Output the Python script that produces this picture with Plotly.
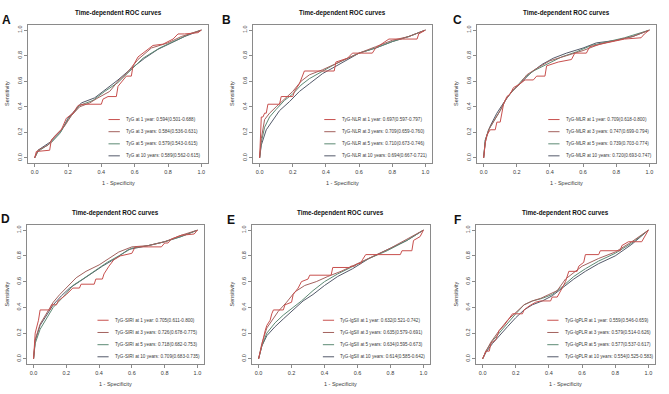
import plotly.graph_objects as go

# ---------------- data ----------------
panel_letters = ["A", "B", "C", "D", "E", "F"]
panel_title = "Time-dependent ROC curves"
x_title = "1 - Specificity"
y_title = "Sensitivity"
tick_vals = [0.0, 0.2, 0.4, 0.6, 0.8, 1.0]
tick_text = ["0.0", "0.2", "0.4", "0.6", "0.8", "1.0"]
series_colors = ["#c8504e", "#a3625e", "#5d8a74", "#545a6a"]

legend_A = ["TyG at 1 year: 0.594(0.501-0.688)", "TyG at 3 years: 0.584(0.536-0.631)",
            "TyG at 5 years: 0.579(0.543-0.615)", "TyG at 10 years: 0.589(0.562-0.615)"]
legend_B = ["TyG-NLR at 1 year: 0.697(0.597-0.797)", "TyG-NLR at 3 years: 0.709(0.659-0.760)",
            "TyG-NLR at 5 years: 0.710(0.673-0.746)", "TyG-NLR at 10 years: 0.694(0.667-0.721)"]
legend_C = ["TyG-MLR at 1 year: 0.709(0.618-0.800)", "TyG-MLR at 3 years: 0.747(0.699-0.794)",
            "TyG-MLR at 5 years: 0.739(0.703-0.774)", "TyG-MLR at 10 years: 0.720(0.693-0.747)"]
legend_D = ["TyG-SIRI at 1 year: 0.705(0.611-0.800)", "TyG-SIRI at 3 years: 0.726(0.678-0.775)",
            "TyG-SIRI at 5 years: 0.718(0.682-0.753)", "TyG-SIRI at 10 years: 0.709(0.683-0.735)"]
legend_E = ["TyG-lgSII at 1 year: 0.632(0.521-0.742)", "TyG-lgSII at 3 years: 0.635(0.579-0.691)",
            "TyG-lgSII at 5 years: 0.634(0.595-0.673)", "TyG-lgSII at 10 years: 0.614(0.585-0.642)"]
legend_F = ["TyG-lgPLR at 1 year: 0.559(0.546-0.659)", "TyG-lgPLR at 3 years: 0.579(0.514-0.626)",
            "TyG-lgPLR at 5 years: 0.577(0.537-0.617)", "TyG-lgPLR at 10 years: 0.554(0.525-0.583)"]

# panel A (FPR, TPR)
A_1y_fpr = [0, 0.01, 0.09, 0.10, 0.13, 0.16, 0.19, 0.23, 0.26, 0.29, 0.40, 0.41, 0.44, 0.49, 0.50, 0.55, 0.58, 0.59, 0.62, 0.65, 0.71, 0.77, 0.83, 0.86, 0.90, 0.98, 1.0]
A_1y_tpr = [0, 0.05, 0.06, 0.14, 0.18, 0.22, 0.31, 0.35, 0.41, 0.42, 0.42, 0.46, 0.48, 0.48, 0.56, 0.64, 0.64, 0.72, 0.79, 0.82, 0.88, 0.89, 0.93, 0.97, 0.97, 0.98, 1.0]
A_3y_fpr = [0, 0.02, 0.08, 0.12, 0.18, 0.22, 0.27, 0.33, 0.38, 0.45, 0.50, 0.55, 0.62, 0.70, 0.80, 0.88, 1.0]
A_3y_tpr = [0, 0.06, 0.10, 0.17, 0.25, 0.33, 0.40, 0.43, 0.47, 0.52, 0.60, 0.66, 0.77, 0.86, 0.90, 0.95, 1.0]
A_5y_fpr = [0, 0.02, 0.10, 0.15, 0.20, 0.27, 0.35, 0.42, 0.50, 0.57, 0.65, 0.75, 0.85, 0.93, 1.0]
A_5y_tpr = [0, 0.05, 0.12, 0.19, 0.30, 0.41, 0.45, 0.52, 0.59, 0.68, 0.78, 0.86, 0.92, 0.97, 1.0]
A_10y_fpr = [0, 0.02, 0.10, 0.16, 0.20, 0.28, 0.36, 0.44, 0.50, 0.58, 0.66, 0.74, 0.82, 0.90, 1.0]
A_10y_tpr = [0, 0.06, 0.13, 0.21, 0.31, 0.43, 0.47, 0.55, 0.61, 0.70, 0.78, 0.85, 0.90, 0.95, 1.0]

# panel B
B_1y_fpr = [0, 0.01, 0.02, 0.03, 0.04, 0.05, 0.12, 0.13, 0.20, 0.21, 0.24, 0.26, 0.27, 0.40, 0.45, 0.46, 0.53, 0.56, 0.59, 0.68, 0.70, 0.78, 0.95, 0.96, 1.0]
B_1y_tpr = [0, 0.32, 0.32, 0.35, 0.35, 0.42, 0.42, 0.48, 0.48, 0.52, 0.58, 0.64, 0.68, 0.68, 0.68, 0.75, 0.78, 0.82, 0.82, 0.82, 0.86, 0.93, 0.93, 0.97, 1.0]
B_3y_fpr = [0, 0.01, 0.03, 0.06, 0.10, 0.15, 0.20, 0.25, 0.30, 0.38, 0.45, 0.52, 0.60, 0.70, 0.80, 0.90, 1.0]
B_3y_tpr = [0, 0.15, 0.30, 0.35, 0.40, 0.46, 0.52, 0.60, 0.65, 0.69, 0.73, 0.77, 0.82, 0.87, 0.92, 0.95, 1.0]
B_5y_fpr = [0, 0.01, 0.03, 0.06, 0.10, 0.15, 0.20, 0.25, 0.30, 0.38, 0.45, 0.53, 0.60, 0.70, 0.80, 0.90, 1.0]
B_5y_tpr = [0, 0.12, 0.24, 0.32, 0.38, 0.45, 0.50, 0.57, 0.62, 0.68, 0.73, 0.78, 0.82, 0.86, 0.91, 0.95, 1.0]
B_10y_fpr = [0, 0.01, 0.04, 0.08, 0.12, 0.18, 0.24, 0.30, 0.38, 0.45, 0.53, 0.60, 0.70, 0.80, 0.90, 1.0]
B_10y_tpr = [0, 0.10, 0.22, 0.30, 0.37, 0.44, 0.52, 0.58, 0.66, 0.71, 0.77, 0.82, 0.86, 0.91, 0.95, 1.0]

# panel C
C_1y_fpr = [0, 0.01, 0.02, 0.04, 0.07, 0.08, 0.10, 0.11, 0.12, 0.14, 0.16, 0.18, 0.22, 0.25, 0.30, 0.32, 0.37, 0.38, 0.45, 0.53, 0.55, 0.62, 0.64, 0.74, 0.85, 0.95, 0.97, 1.0]
C_1y_tpr = [0, 0.12, 0.18, 0.22, 0.22, 0.28, 0.28, 0.36, 0.42, 0.48, 0.50, 0.55, 0.58, 0.61, 0.61, 0.64, 0.64, 0.72, 0.75, 0.77, 0.82, 0.82, 0.87, 0.90, 0.93, 0.94, 0.97, 1.0]
C_3y_fpr = [0, 0.01, 0.03, 0.06, 0.10, 0.13, 0.17, 0.22, 0.26, 0.32, 0.40, 0.50, 0.60, 0.70, 0.80, 0.90, 1.0]
C_3y_tpr = [0, 0.12, 0.22, 0.28, 0.37, 0.45, 0.52, 0.58, 0.65, 0.70, 0.76, 0.80, 0.84, 0.89, 0.92, 0.95, 1.0]
C_5y_fpr = [0, 0.01, 0.03, 0.07, 0.10, 0.14, 0.18, 0.24, 0.30, 0.38, 0.47, 0.56, 0.65, 0.75, 0.85, 1.0]
C_5y_tpr = [0, 0.14, 0.22, 0.30, 0.37, 0.47, 0.53, 0.62, 0.68, 0.73, 0.79, 0.83, 0.88, 0.91, 0.94, 1.0]
C_10y_fpr = [0, 0.01, 0.04, 0.08, 0.12, 0.17, 0.22, 0.28, 0.35, 0.42, 0.50, 0.60, 0.68, 0.80, 0.90, 1.0]
C_10y_tpr = [0, 0.14, 0.25, 0.35, 0.43, 0.52, 0.58, 0.66, 0.73, 0.78, 0.82, 0.86, 0.90, 0.92, 0.95, 1.0]

# panel D
D_1y_fpr = [0, 0.01, 0.03, 0.04, 0.10, 0.11, 0.14, 0.15, 0.20, 0.24, 0.28, 0.29, 0.37, 0.38, 0.42, 0.43, 0.46, 0.49, 0.53, 0.60, 0.62, 0.78, 0.80, 0.82, 0.84, 0.90, 0.98, 1.0]
D_1y_tpr = [0, 0.20, 0.30, 0.38, 0.38, 0.42, 0.42, 0.45, 0.50, 0.55, 0.55, 0.58, 0.58, 0.62, 0.62, 0.66, 0.72, 0.77, 0.80, 0.82, 0.87, 0.87, 0.90, 0.90, 0.93, 0.96, 0.97, 1.0]
D_3y_fpr = [0, 0.01, 0.04, 0.08, 0.12, 0.16, 0.20, 0.26, 0.32, 0.40, 0.46, 0.52, 0.60, 0.70, 0.80, 0.90, 1.0]
D_3y_tpr = [0, 0.15, 0.27, 0.36, 0.44, 0.50, 0.55, 0.63, 0.68, 0.73, 0.78, 0.83, 0.87, 0.88, 0.91, 0.96, 1.0]
D_5y_fpr = [0, 0.01, 0.04, 0.08, 0.12, 0.18, 0.24, 0.30, 0.38, 0.45, 0.52, 0.60, 0.70, 0.80, 0.90, 1.0]
D_5y_tpr = [0, 0.12, 0.23, 0.32, 0.40, 0.48, 0.57, 0.62, 0.69, 0.75, 0.80, 0.86, 0.88, 0.91, 0.95, 1.0]
D_10y_fpr = [0, 0.01, 0.04, 0.08, 0.12, 0.17, 0.22, 0.28, 0.35, 0.42, 0.50, 0.58, 0.70, 0.80, 0.90, 1.0]
D_10y_tpr = [0, 0.14, 0.26, 0.34, 0.42, 0.49, 0.55, 0.60, 0.66, 0.72, 0.78, 0.85, 0.88, 0.91, 0.95, 1.0]

# panel E
E_1y_fpr = [0, 0.02, 0.04, 0.05, 0.07, 0.08, 0.09, 0.15, 0.16, 0.20, 0.21, 0.24, 0.26, 0.30, 0.31, 0.44, 0.45, 0.55, 0.56, 0.58, 0.60, 0.62, 0.63, 0.65, 0.86, 0.87, 0.93, 0.94, 0.98, 1.0]
E_1y_tpr = [0, 0.12, 0.22, 0.26, 0.30, 0.35, 0.38, 0.38, 0.42, 0.44, 0.50, 0.55, 0.60, 0.62, 0.65, 0.65, 0.71, 0.71, 0.72, 0.72, 0.74, 0.74, 0.77, 0.81, 0.81, 0.84, 0.84, 0.92, 0.95, 1.0]
E_3y_fpr = [0, 0.02, 0.05, 0.08, 0.12, 0.17, 0.22, 0.28, 0.35, 0.42, 0.50, 0.60, 0.70, 0.80, 0.90, 1.0]
E_3y_tpr = [0, 0.12, 0.24, 0.30, 0.37, 0.44, 0.52, 0.57, 0.60, 0.64, 0.68, 0.74, 0.80, 0.86, 0.93, 1.0]
E_5y_fpr = [0, 0.02, 0.05, 0.10, 0.15, 0.20, 0.26, 0.33, 0.40, 0.48, 0.57, 0.67, 0.78, 0.90, 1.0]
E_5y_tpr = [0, 0.10, 0.20, 0.28, 0.34, 0.39, 0.45, 0.53, 0.60, 0.66, 0.72, 0.78, 0.84, 0.92, 1.0]
E_10y_fpr = [0, 0.02, 0.05, 0.10, 0.15, 0.20, 0.27, 0.33, 0.40, 0.48, 0.57, 0.67, 0.78, 0.90, 1.0]
E_10y_tpr = [0, 0.10, 0.18, 0.25, 0.31, 0.37, 0.45, 0.50, 0.57, 0.64, 0.70, 0.78, 0.85, 0.92, 1.0]

# panel F
F_1y_fpr = [0, 0.02, 0.04, 0.05, 0.08, 0.10, 0.13, 0.16, 0.18, 0.24, 0.25, 0.28, 0.32, 0.35, 0.41, 0.42, 0.45, 0.48, 0.50, 0.52, 0.57, 0.58, 0.61, 0.62, 0.70, 0.71, 0.83, 0.84, 0.88, 0.96, 0.98, 1.0]
F_1y_tpr = [0, 0.06, 0.06, 0.12, 0.15, 0.22, 0.26, 0.32, 0.35, 0.35, 0.38, 0.41, 0.44, 0.45, 0.45, 0.48, 0.48, 0.55, 0.60, 0.68, 0.68, 0.72, 0.75, 0.81, 0.81, 0.84, 0.84, 0.88, 0.91, 0.91, 0.96, 1.0]
F_3y_fpr = [0, 0.02, 0.05, 0.10, 0.15, 0.20, 0.25, 0.30, 0.35, 0.40, 0.45, 0.50, 0.55, 0.60, 0.70, 0.80, 0.90, 1.0]
F_3y_tpr = [0, 0.06, 0.13, 0.22, 0.30, 0.36, 0.42, 0.45, 0.47, 0.50, 0.53, 0.62, 0.67, 0.72, 0.78, 0.83, 0.91, 1.0]
F_5y_fpr = [0, 0.02, 0.06, 0.10, 0.15, 0.20, 0.25, 0.30, 0.36, 0.42, 0.48, 0.55, 0.62, 0.70, 0.80, 0.90, 1.0]
F_5y_tpr = [0, 0.06, 0.14, 0.20, 0.28, 0.35, 0.42, 0.45, 0.47, 0.50, 0.56, 0.64, 0.70, 0.76, 0.82, 0.90, 1.0]
F_10y_fpr = [0, 0.02, 0.06, 0.10, 0.15, 0.20, 0.25, 0.30, 0.36, 0.42, 0.48, 0.55, 0.62, 0.70, 0.80, 0.90, 1.0]
F_10y_tpr = [0, 0.05, 0.12, 0.18, 0.25, 0.32, 0.38, 0.42, 0.45, 0.49, 0.55, 0.62, 0.68, 0.74, 0.80, 0.89, 1.0]

panels = [
    ([(A_1y_fpr, A_1y_tpr), (A_3y_fpr, A_3y_tpr), (A_5y_fpr, A_5y_tpr), (A_10y_fpr, A_10y_tpr)], legend_A),
    ([(B_1y_fpr, B_1y_tpr), (B_3y_fpr, B_3y_tpr), (B_5y_fpr, B_5y_tpr), (B_10y_fpr, B_10y_tpr)], legend_B),
    ([(C_1y_fpr, C_1y_tpr), (C_3y_fpr, C_3y_tpr), (C_5y_fpr, C_5y_tpr), (C_10y_fpr, C_10y_tpr)], legend_C),
    ([(D_1y_fpr, D_1y_tpr), (D_3y_fpr, D_3y_tpr), (D_5y_fpr, D_5y_tpr), (D_10y_fpr, D_10y_tpr)], legend_D),
    ([(E_1y_fpr, E_1y_tpr), (E_3y_fpr, E_3y_tpr), (E_5y_fpr, E_5y_tpr), (E_10y_fpr, E_10y_tpr)], legend_E),
    ([(F_1y_fpr, F_1y_tpr), (F_3y_fpr, F_3y_tpr), (F_5y_fpr, F_5y_tpr), (F_10y_fpr, F_10y_tpr)], legend_F),
]

# ---------------- layout geometry (pixels) ----------------
W, H = 669, 394
# plot boxes: (left, right, top, bottom)
boxes = [(28, 208, 25, 163), (253, 432, 25, 163), (477, 656, 25, 163),
         (27, 204, 225, 364), (252, 430, 225, 364), (476, 655, 225, 364)]
letter_pos = [(6, 20), (226, 20), (457, 20), (5, 219), (231, 220), (457, 220)]
FONT = "Liberation Sans, Arial, sans-serif"
TXT = "#3a3a3a"
AXC = "#8a8a8a"

fig = go.Figure()
annotations = []
shapes = []

legend_rows_y = [0.30, 0.205, 0.11, 0.016]

for i, ((curves, labels), box) in enumerate(zip(panels, boxes)):
    n = "" if i == 0 else str(i + 1)
    xa, ya = "x" + n, "y" + n
    l, r, t, b = box
    xdom = [l / W, r / W]
    ydom = [1 - b / H, 1 - t / H]
    # curves: draw 10y first so red ends on top
    for k in [3, 2, 1, 0]:
        fx, ty = curves[k]
        fig.add_trace(go.Scatter(x=fx, y=ty, mode="lines", xaxis=xa, yaxis=ya,
                                 line=dict(color=series_colors[k], width=1.0),
                                 showlegend=False, hoverinfo="skip"))
    axis_common = dict(range=[-0.04, 1.04], showgrid=False, zeroline=False,
                       showline=True, mirror=True, linecolor=AXC, linewidth=1,
                       ticks="outside", ticklen=3, tickcolor=AXC, tickwidth=1,
                       tickvals=tick_vals, ticktext=tick_text,
                       tickfont=dict(family=FONT, size=5.5, color=TXT))
    fig.update_layout(**{
        ("xaxis" + n): dict(domain=xdom, anchor=ya, **axis_common),
        ("yaxis" + n): dict(domain=ydom, anchor=xa, tickangle=-90, **axis_common),
    })
    cx = (l + r) / 2 / W
    # title
    annotations.append(dict(text="<b>" + panel_title + "</b>", xref="paper", yref="paper",
                            x=cx, y=1 - (t - 12) / H, showarrow=False,
                            font=dict(family=FONT, size=6.3, color="#111"),
                            xanchor="center", yanchor="middle"))
    # x title
    annotations.append(dict(text=x_title, xref="paper", yref="paper",
                            x=cx, y=1 - (b + 20) / H, showarrow=False,
                            font=dict(family=FONT, size=5.5, color=TXT),
                            xanchor="center", yanchor="middle"))
    # y title
    annotations.append(dict(text=y_title, xref="paper", yref="paper",
                            x=(l - 21) / W, y=1 - (t + b) / 2 / H, showarrow=False, textangle=-90,
                            font=dict(family=FONT, size=5.5, color=TXT),
                            xanchor="center", yanchor="middle"))
    # panel letter
    lx, ly = letter_pos[i]
    annotations.append(dict(text="<b>" + panel_letters[i] + "</b>", xref="paper", yref="paper",
                            x=lx / W, y=1 - ly / H, showarrow=False,
                            font=dict(family=FONT, size=12, color="#111"),
                            xanchor="center", yanchor="middle"))
    # legend (lines + text)
    lx0 = 0.443 if i == 0 else 0.39
    lx1 = lx0 + 0.068
    for k, lab in enumerate(labels):
        yy = legend_rows_y[k]
        shapes.append(dict(type="line", xref=xa, yref=ya, x0=lx0, x1=lx1, y0=yy, y1=yy,
                           line=dict(color=series_colors[k], width=1.0)))
        annotations.append(dict(text=lab, xref=xa, yref=ya, x=lx1 + 0.025, y=yy,
                                showarrow=False, xanchor="left", yanchor="middle",
                                font=dict(family=FONT, size=4.6, color=TXT)))

fig.update_layout(width=W, height=H, margin=dict(l=0, r=0, t=0, b=0),
                  paper_bgcolor="white", plot_bgcolor="white",
                  annotations=annotations, shapes=shapes, showlegend=False)

fig.write_html("out.html", config={"displayModeBar": False},
               post_script="document.body.style.margin='0';document.body.style.padding='0';")
